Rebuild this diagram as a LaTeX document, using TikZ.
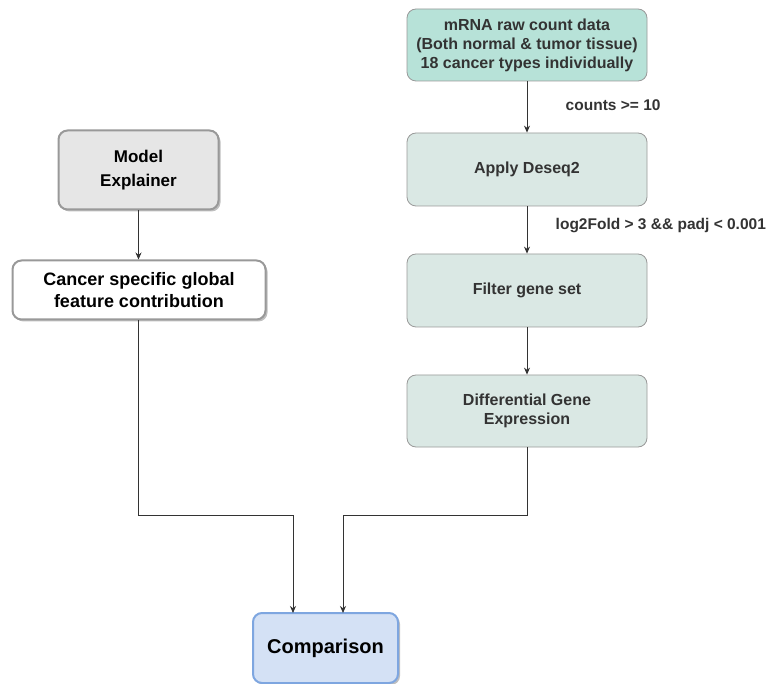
\documentclass[tikz,border=0pt]{standalone}
\usepackage{fontspec}
\setmainfont{Liberation Sans}
\usetikzlibrary{arrows.meta,shadows}
\definecolor{mintfill}{HTML}{B7E2D8}
\definecolor{sagefill}{HTML}{DAE8E4}
\definecolor{boxgray}{HTML}{999999}
\definecolor{greyfill}{HTML}{E6E6E6}
\definecolor{bluefill}{HTML}{D4E1F5}
\definecolor{blueline}{HTML}{7EA6E0}
\definecolor{inkgray}{HTML}{333333}
\tikzset{
  base/.style={rounded corners=9pt, align=center, inner sep=0pt,
    font=\bfseries, text=inkgray},
  stepbox/.style={base, draw=boxgray, line width=0.8pt, fill=sagefill,
    minimum width=240pt, minimum height=72pt, font=\bfseries\fontsize{16}{19}\selectfont},
  sourcebox/.style={stepbox, fill=mintfill},
  heavybox/.style={base, draw=boxgray, line width=2pt, text=black,
    drop shadow={shadow xshift=2pt, shadow yshift=-2pt, opacity=0.25, fill=black}},
  flow/.style={draw=inkgray, line width=0.8pt, -{Stealth[length=7pt,width=6pt]}},
  edgetext/.style={font=\bfseries\fontsize{15.5}{18}\selectfont, text=inkgray, anchor=west}
}
\begin{document}
\begin{tikzpicture}[x=1pt,y=-1pt]
\useasboundingbox[fill=white] (0,0) rectangle (771,684);

% right column: differential expression pipeline
\node[sourcebox] (raw) at (527,45)
  {mRNA raw count data\\(Both normal \& tumor tissue)\\18 cancer types individually};
\node[stepbox, minimum height=73pt] (deseq) at (527,169.5) {Apply Deseq2};
\node[stepbox, minimum height=73pt] (filter) at (527,290.5) {Filter gene set};
\node[stepbox] (dge) at (527,411) {Differential Gene\\Expression};

% left column: model explanation
\node[heavybox, fill=greyfill, minimum width=160pt, minimum height=79pt,
  font=\bfseries\fontsize{17}{24}\selectfont] (model) at (138.5,170) {Model\\Explainer};
\node[heavybox, fill=white, minimum width=253pt, minimum height=59pt,
  font=\bfseries\fontsize{18}{22}\selectfont] (global) at (139,290)
  {Cancer specific global\\feature contribution};

% merge target
\node[heavybox, fill=bluefill, draw=blueline, minimum width=145pt, minimum height=70pt,
  font=\bfseries\fontsize{20}{24}\selectfont] (comp) at (325.5,648) {Comparison};

% connectors
\draw[flow] (raw) -- (deseq) node[pos=0.46, edgetext, xshift=35pt] {counts >= 10};
\draw[flow] (deseq) -- (filter) node[pos=0.4, edgetext, xshift=25pt] {log2Fold > 3 \&\& padj < 0.001};
\draw[flow] (filter) -- (dge);
\draw[flow] (model) -- (global.north -| model);
\draw[flow] (global.south -| model) |- (293,515) -- (293,613);
\draw[flow] (dge.south) |- (343,515) -- (343,613);
\end{tikzpicture}
\end{document}
